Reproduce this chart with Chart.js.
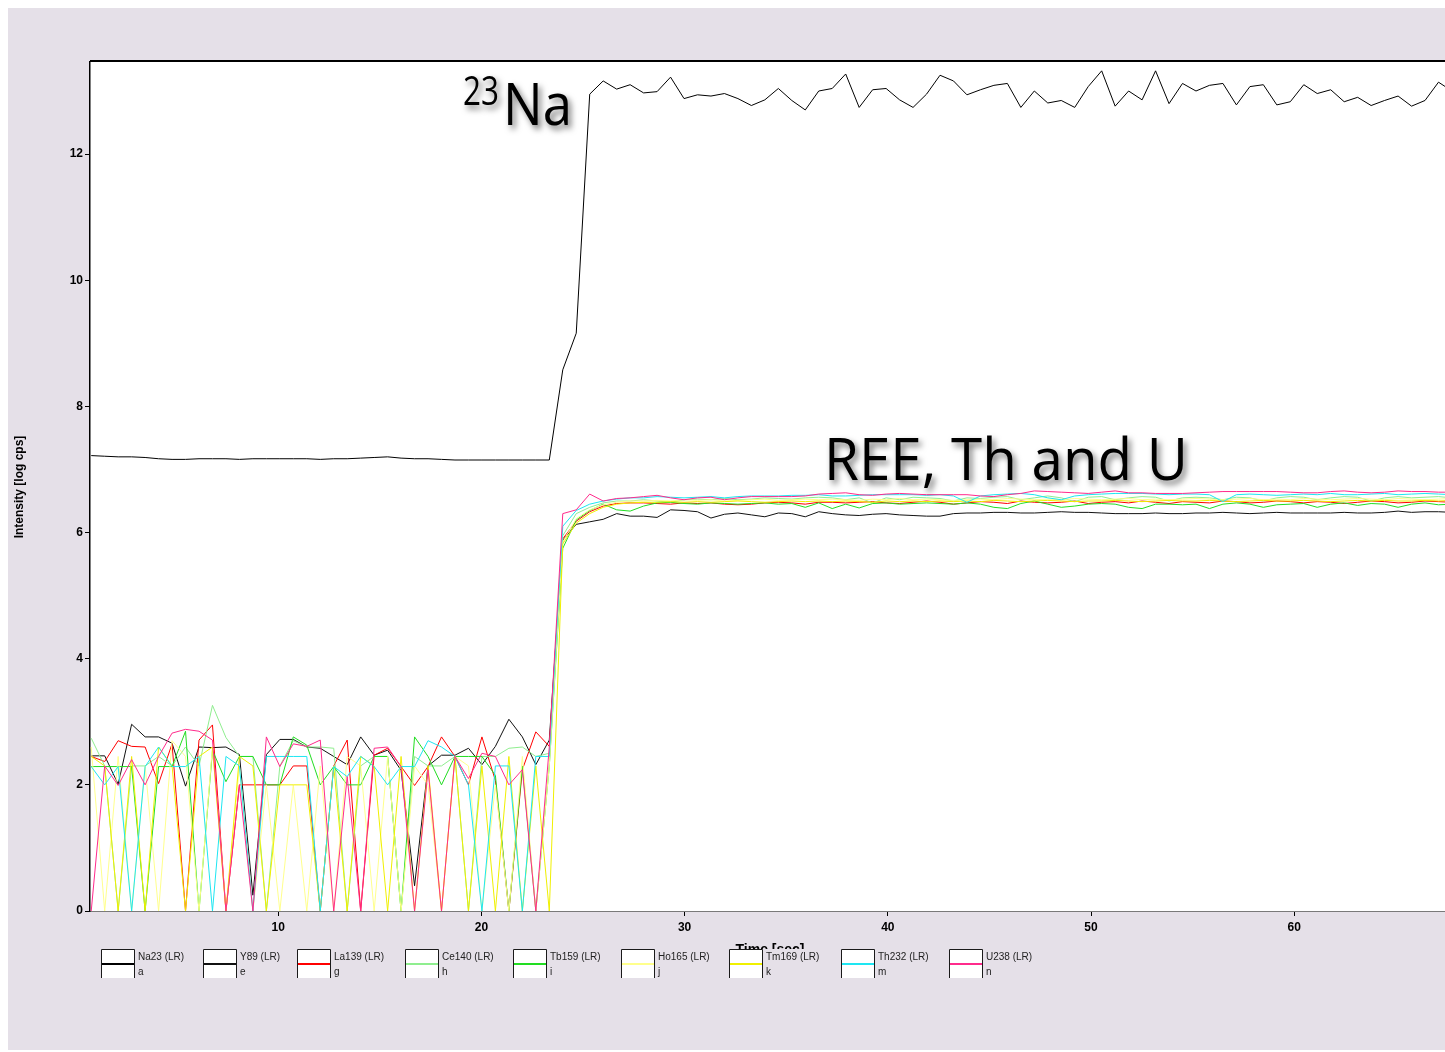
<!DOCTYPE html>
<html>
<head>
<meta charset="utf-8">
<title>Laser ablation signal</title>
<script src="https://cdn.jsdelivr.net/npm/chart.js@4/dist/chart.umd.min.js"></script>
<style>
  html, body { margin: 0; padding: 0; background: #ffffff; }
  #panel { position: absolute; left: 8px; top: 8px; width: 1437px; height: 1042px; background: #e5e0e8; }
  canvas { display: block; }
</style>
</head>
<body>
<div id="panel"><canvas id="signal" width="1437" height="1042"></canvas></div>
<script>
// Acquisition timing (one sweep every ~0.66 s)
const sampleStart = 0.80;
const sampleStep = 0.663;

// Axis ticks
const timeTicks = [10, 20, 30, 40, 50, 60];
const intensityTicks = [0, 2, 4, 6, 8, 10, 12];

// Legend labels
const isotopes = ['Na23 (LR)', 'Y89 (LR)', 'La139 (LR)', 'Ce140 (LR)', 'Tb159 (LR)', 'Ho165 (LR)', 'Tm169 (LR)', 'Th232 (LR)', 'U238 (LR)'];
const tags = ['a', 'e', 'g', 'h', 'i', 'j', 'k', 'm', 'n'];

// Intensities, log cps, one value per sweep
const na23 = [
  7.22, 7.21, 7.20, 7.20, 7.19, 7.17, 7.16, 7.16, 7.17, 7.17,
  7.17, 7.16, 7.17, 7.17, 7.17, 7.17, 7.17, 7.16, 7.17, 7.17,
  7.18, 7.19, 7.20, 7.18, 7.17, 7.17, 7.16, 7.15, 7.15, 7.15,
  7.15, 7.15, 7.15, 7.15, 7.15, 8.58, 9.16, 12.95, 13.16, 13.03,
  13.10, 12.97, 12.99, 13.22, 12.88, 12.94, 12.92, 12.96, 12.88, 12.77,
  12.86, 13.04, 12.85, 12.70, 13.00, 13.04, 13.27, 12.74, 13.02, 13.04,
  12.86, 12.74, 12.95, 13.25, 13.16, 12.94, 13.02, 13.09, 13.12, 12.74,
  13.00, 12.81, 12.85, 12.74, 13.07, 13.32, 12.76, 13.00, 12.86, 13.32,
  12.80, 13.12, 13.00, 13.09, 13.12, 12.78, 13.07, 13.10, 12.78, 12.83,
  13.10, 12.96, 13.02, 12.83, 12.90, 12.77, 12.85, 12.92, 12.76, 12.85,
  13.14, 13.00
];
const y89 = [
  2.46, 2.46, 2.01, 2.96, 2.76, 2.76, 2.66, 1.98, 2.60, 2.59,
  2.60, 2.48, 0.25, 2.48, 2.72, 2.72, 2.60, 2.58, 2.45, 2.32,
  2.76, 2.47, 2.55, 2.23, 0.40, 2.30, 2.47, 2.47, 2.58, 2.32,
  2.61, 3.04, 2.76, 2.32, 2.71, 5.88, 6.13, 6.17, 6.21, 6.30,
  6.26, 6.26, 6.24, 6.36, 6.35, 6.33, 6.23, 6.29, 6.31, 6.28,
  6.25, 6.31, 6.30, 6.25, 6.33, 6.30, 6.28, 6.27, 6.29, 6.30,
  6.28, 6.27, 6.26, 6.26, 6.30, 6.31, 6.31, 6.32, 6.32, 6.31,
  6.31, 6.32, 6.33, 6.32, 6.32, 6.31, 6.30, 6.30, 6.30, 6.31,
  6.30, 6.30, 6.31, 6.31, 6.32, 6.31, 6.30, 6.31, 6.32, 6.31,
  6.31, 6.31, 6.31, 6.32, 6.31, 6.31, 6.32, 6.34, 6.32, 6.33,
  6.33, 6.32
];
const la139 = [
  2.45, 2.37, 2.70, 2.61, 2.60, 2.02, 2.65, 0, 2.71, 2.95,
  0, 2.00, 2.00, 2.00, 2.00, 2.30, 2.30, 0, 2.30, 2.71,
  0, 2.47, 2.58, 2.29, 1.99, 2.29, 2.76, 2.45, 2.00, 2.76,
  2.07, 0, 2.24, 2.84, 2.61, 5.90, 6.18, 6.33, 6.42, 6.46,
  6.47, 6.47, 6.46, 6.45, 6.47, 6.46, 6.47, 6.45, 6.44, 6.45,
  6.47, 6.48, 6.47, 6.45, 6.48, 6.48, 6.47, 6.48, 6.49, 6.47,
  6.46, 6.48, 6.50, 6.48, 6.45, 6.47, 6.49, 6.48, 6.46, 6.50,
  6.48, 6.47, 6.48, 6.50, 6.46, 6.48, 6.49, 6.47, 6.50, 6.48,
  6.46, 6.49, 6.48, 6.47, 6.50, 6.49, 6.47, 6.48, 6.50, 6.49,
  6.47, 6.49, 6.48, 6.46, 6.48, 6.50, 6.49, 6.47, 6.48, 6.50,
  6.49, 6.48
];
const ce140 = [
  2.74, 2.30, 0, 2.30, 2.30, 2.45, 2.30, 2.60, 2.30, 3.26,
  2.75, 2.45, 2.45, 0, 2.30, 2.70, 2.60, 2.60, 2.58, 0,
  2.30, 2.45, 2.45, 0, 2.45, 2.30, 2.30, 2.45, 0, 2.45,
  2.45, 2.58, 2.60, 2.45, 2.50, 5.95, 6.30, 6.40, 6.47, 6.50,
  6.50, 6.52, 6.50, 6.48, 6.52, 6.53, 6.52, 6.54, 6.52, 6.53,
  6.55, 6.54, 6.53, 6.55, 6.56, 6.55, 6.52, 6.55, 6.47, 6.55,
  6.52, 6.56, 6.55, 6.54, 6.50, 6.55, 6.54, 6.56, 6.57, 6.52,
  6.55, 6.58, 6.55, 6.49, 6.56, 6.57, 6.52, 6.55, 6.57, 6.56,
  6.50, 6.55, 6.56, 6.55, 6.52, 6.56, 6.55, 6.50, 6.55, 6.57,
  6.56, 6.52, 6.55, 6.57, 6.56, 6.50, 6.55, 6.57, 6.55, 6.56,
  6.57, 6.55
];
const tb159 = [
  2.29, 2.29, 2.29, 2.29, 0, 2.29, 2.29, 2.85, 0, 2.55,
  2.05, 2.45, 2.45, 2.00, 2.00, 2.76, 2.63, 2.00, 2.29, 2.00,
  2.00, 2.45, 2.45, 0, 2.76, 2.45, 2.00, 2.45, 2.45, 2.45,
  2.15, 0, 2.30, 0, 2.30, 5.75, 6.20, 6.35, 6.45, 6.36,
  6.34, 6.42, 6.47, 6.48, 6.46, 6.45, 6.47, 6.46, 6.45, 6.46,
  6.47, 6.45, 6.46, 6.40, 6.47, 6.38, 6.45, 6.39, 6.46, 6.47,
  6.45, 6.46, 6.47, 6.46, 6.45, 6.47, 6.45, 6.40, 6.38, 6.46,
  6.50, 6.45, 6.40, 6.42, 6.45, 6.46, 6.45, 6.40, 6.38, 6.45,
  6.45, 6.44, 6.45, 6.38, 6.45, 6.47, 6.45, 6.40, 6.44, 6.45,
  6.46, 6.40, 6.45, 6.47, 6.43, 6.46, 6.45, 6.40, 6.45, 6.47,
  6.44, 6.45
];
const ho165 = [
  2.60, 0, 2.45, 0, 2.30, 0, 2.70, 2.45, 0, 2.60,
  0, 2.30, 0, 2.00, 0, 2.00, 0, 2.30, 0, 2.45,
  2.30, 0, 2.45, 0, 2.30, 2.00, 0, 2.45, 2.30, 0,
  2.00, 0, 2.45, 0, 2.30, 5.85, 6.22, 6.36, 6.44, 6.48,
  6.50, 6.50, 6.51, 6.50, 6.52, 6.51, 6.52, 6.50, 6.51, 6.52,
  6.53, 6.51, 6.52, 6.53, 6.52, 6.53, 6.52, 6.51, 6.53, 6.52,
  6.54, 6.52, 6.53, 6.52, 6.51, 6.52, 6.53, 6.52, 6.54, 6.53,
  6.52, 6.53, 6.52, 6.54, 6.53, 6.52, 6.53, 6.54, 6.52, 6.53,
  6.52, 6.53, 6.54, 6.53, 6.52, 6.53, 6.54, 6.52, 6.53, 6.52,
  6.54, 6.53, 6.52, 6.53, 6.54, 6.53, 6.52, 6.54, 6.53, 6.52,
  6.53, 6.54
];
const tm169 = [
  2.45, 2.30, 0, 2.45, 0, 2.60, 2.30, 0, 2.45, 2.60,
  0, 2.45, 2.30, 0, 2.00, 2.00, 2.00, 0, 2.30, 0,
  2.45, 2.30, 0, 2.45, 0, 2.30, 0, 2.45, 0, 2.30,
  0, 2.45, 0, 2.30, 0, 5.82, 6.15, 6.30, 6.40, 6.45,
  6.47, 6.48, 6.48, 6.49, 6.48, 6.49, 6.48, 6.49, 6.50, 6.49,
  6.48, 6.49, 6.50, 6.49, 6.50, 6.49, 6.50, 6.49, 6.48, 6.50,
  6.49, 6.50, 6.49, 6.50, 6.49, 6.50, 6.49, 6.51, 6.50, 6.49,
  6.50, 6.51, 6.50, 6.49, 6.50, 6.50, 6.51, 6.50, 6.49, 6.50,
  6.51, 6.50, 6.50, 6.51, 6.50, 6.49, 6.50, 6.51, 6.50, 6.50,
  6.51, 6.50, 6.49, 6.50, 6.51, 6.50, 6.51, 6.50, 6.50, 6.51,
  6.50, 6.51
];
const th232 = [
  2.29, 2.00, 2.29, 0, 2.29, 2.60, 2.29, 2.29, 2.45, 0,
  2.45, 2.30, 0, 2.45, 2.45, 2.45, 2.45, 0, 2.29, 2.13,
  2.45, 2.29, 2.00, 2.29, 2.29, 2.70, 2.60, 2.45, 2.00, 0,
  2.30, 2.30, 0, 2.45, 2.45, 6.10, 6.35, 6.45, 6.50, 6.53,
  6.55, 6.55, 6.57, 6.56, 6.55, 6.56, 6.57, 6.55, 6.57, 6.58,
  6.58, 6.58, 6.59, 6.59, 6.60, 6.58, 6.58, 6.59, 6.60, 6.60,
  6.60, 6.60, 6.59, 6.60, 6.58, 6.48, 6.58, 6.60, 6.61, 6.62,
  6.60, 6.55, 6.52, 6.58, 6.60, 6.61, 6.62, 6.62, 6.62, 6.61,
  6.60, 6.61, 6.61, 6.60, 6.49, 6.60, 6.61, 6.60, 6.59, 6.60,
  6.61, 6.60, 6.62, 6.60, 6.60, 6.61, 6.62, 6.60, 6.61, 6.62,
  6.61, 6.60
];
const u238 = [
  0, 2.30, 1.99, 2.40, 2.00, 2.45, 2.82, 2.88, 2.85, 2.71,
  0, 2.00, 0, 2.76, 2.29, 2.65, 2.61, 2.71, 0, 2.13,
  0, 2.58, 2.60, 2.29, 0, 2.24, 0, 2.45, 2.10, 2.50,
  2.45, 2.00, 2.24, 0, 2.60, 6.30, 6.36, 6.61, 6.50, 6.54,
  6.55, 6.57, 6.59, 6.55, 6.52, 6.55, 6.56, 6.52, 6.55, 6.57,
  6.57, 6.57, 6.57, 6.58, 6.61, 6.62, 6.63, 6.60, 6.59, 6.61,
  6.62, 6.61, 6.60, 6.60, 6.60, 6.60, 6.58, 6.57, 6.60, 6.62,
  6.66, 6.65, 6.64, 6.63, 6.62, 6.64, 6.66, 6.63, 6.63, 6.62,
  6.62, 6.62, 6.63, 6.64, 6.65, 6.65, 6.65, 6.65, 6.65, 6.64,
  6.63, 6.63, 6.65, 6.66, 6.64, 6.63, 6.64, 6.66, 6.65, 6.65,
  6.64, 6.64
];

const seriesValues = [na23, y89, la139, ce140, tb159, ho165, tm169, th232, u238];
const seriesColors = ['#000000', '#111111', '#ff0000', '#8fee8f', '#22dd22', '#ffff8c', '#f0f000', '#1ee6f2', '#ff2b8c'];

const LAVENDER = '#e5e0e8';
const TICK_FONT = { family: 'Liberation Sans, Arial, sans-serif', size: 12, weight: 'bold' };

const datasets = seriesValues.map((vals, k) => ({
  label: isotopes[k],
  data: vals.map((v, i) => ({ x: sampleStart + i * sampleStep, y: v })),
  borderColor: seriesColors[k],
  borderWidth: 1,
  pointRadius: 0,
  tension: 0,
  fill: false,
  order: seriesValues.length - 1 - k
}));

// White plotting field, frame top, axis titles, legend and element labels
const decorations = {
  id: 'decorations',
  beforeDraw(chart) {
    const { ctx, chartArea: a } = chart;
    ctx.save();
    ctx.fillStyle = '#ffffff';
    ctx.fillRect(a.left, a.top, a.right - a.left, a.bottom - a.top);
    ctx.restore();
  },
  afterDraw(chart) {
    const { ctx, chartArea: a } = chart;
    ctx.save();

    // top frame line
    ctx.strokeStyle = '#000000';
    ctx.lineWidth = 2;
    ctx.beginPath();
    ctx.moveTo(a.left, a.top - 1);
    ctx.lineTo(a.right, a.top - 1);
    ctx.stroke();

    // axis titles
    ctx.fillStyle = '#000000';
    ctx.font = 'bold 12px "Liberation Sans", Arial, sans-serif';
    ctx.textAlign = 'center';
    ctx.textBaseline = 'middle';
    ctx.save();
    ctx.translate(12, 479);
    ctx.rotate(-Math.PI / 2);
    ctx.fillText('Intensity [log cps]', 0, 0);
    ctx.restore();

    ctx.font = 'bold 14px "Liberation Sans", Arial, sans-serif';
    ctx.textBaseline = 'alphabetic';
    ctx.fillText('Time [sec]', 762, 946);

    // legend strip
    ctx.fillStyle = LAVENDER;
    ctx.fillRect(84, 941, 980, 36);
    const boxX = [93, 195, 289, 397, 505, 613, 721, 833, 941];
    ctx.textAlign = 'left';
    ctx.textBaseline = 'middle';
    ctx.font = '10px "Liberation Sans", Arial, sans-serif';
    boxX.forEach((x, k) => {
      ctx.fillStyle = '#ffffff';
      ctx.fillRect(x, 941, 33, 29);
      ctx.strokeStyle = '#1a1a1a';
      ctx.lineWidth = 1;
      ctx.beginPath();
      ctx.moveTo(x + 0.5, 970);
      ctx.lineTo(x + 0.5, 941.5);
      ctx.lineTo(x + 33.5, 941.5);
      ctx.lineTo(x + 33.5, 970);
      ctx.stroke();
      ctx.strokeStyle = seriesColors[k];
      ctx.lineWidth = 2;
      ctx.beginPath();
      ctx.moveTo(x + 1, 956);
      ctx.lineTo(x + 33, 956);
      ctx.stroke();
      ctx.fillStyle = '#222222';
      ctx.fillText(isotopes[k], x + 37, 949);
      ctx.fillText(tags[k], x + 37, 964);
    });

    // element labels with soft drop shadow
    const label = (text, x, y, size, width) => {
      ctx.save();
      ctx.font = size + 'px "Open Sans", "DejaVu Sans", sans-serif';
      ctx.textAlign = 'left';
      ctx.textBaseline = 'alphabetic';
      const w = ctx.measureText(text).width;
      ctx.shadowColor = 'rgba(0,0,0,0.55)';
      ctx.shadowBlur = 6;
      ctx.shadowOffsetX = 3;
      ctx.shadowOffsetY = 4;
      ctx.fillStyle = '#000000';
      ctx.translate(x, y);
      ctx.scale(width / w, 1);
      ctx.fillText(text, 0, 0);
      ctx.restore();
    };
    label('23', 455, 97, 40, 36);
    label('Na', 495, 117, 58, 69);
    label('REE, Th and U', 816, 472, 58, 364);

    ctx.restore();
  }
};

new Chart(document.getElementById('signal'), {
  type: 'line',
  data: { datasets },
  options: {
    responsive: false,
    animation: false,
    devicePixelRatio: 1,
    layout: { padding: { top: 54, left: 0, right: 0, bottom: 0 } },
    plugins: { legend: { display: false }, tooltip: { enabled: false } },
    scales: {
      x: {
        type: 'linear',
        min: 0.74,
        max: 67.42,
        afterBuildTicks: s => { s.ticks = timeTicks.map(v => ({ value: v })); },
        afterFit: s => { s.height = 139; },
        ticks: { font: TICK_FONT, color: '#000000', padding: 4, maxRotation: 0, autoSkip: false },
        grid: { drawOnChartArea: false, drawTicks: true, tickLength: 5, color: '#000000' },
        border: { color: '#7a7a7a', width: 1 }
      },
      y: {
        min: 0,
        max: 13.46,
        afterBuildTicks: s => { s.ticks = intensityTicks.map(v => ({ value: v })); },
        afterFit: s => { s.width = 82; },
        ticks: { font: TICK_FONT, color: '#000000', padding: 2 },
        grid: { drawOnChartArea: false, drawTicks: true, tickLength: 5, color: '#000000' },
        border: { color: '#000000', width: 1.5 }
      }
    }
  },
  plugins: [decorations]
});
</script>
</body>
</html>
